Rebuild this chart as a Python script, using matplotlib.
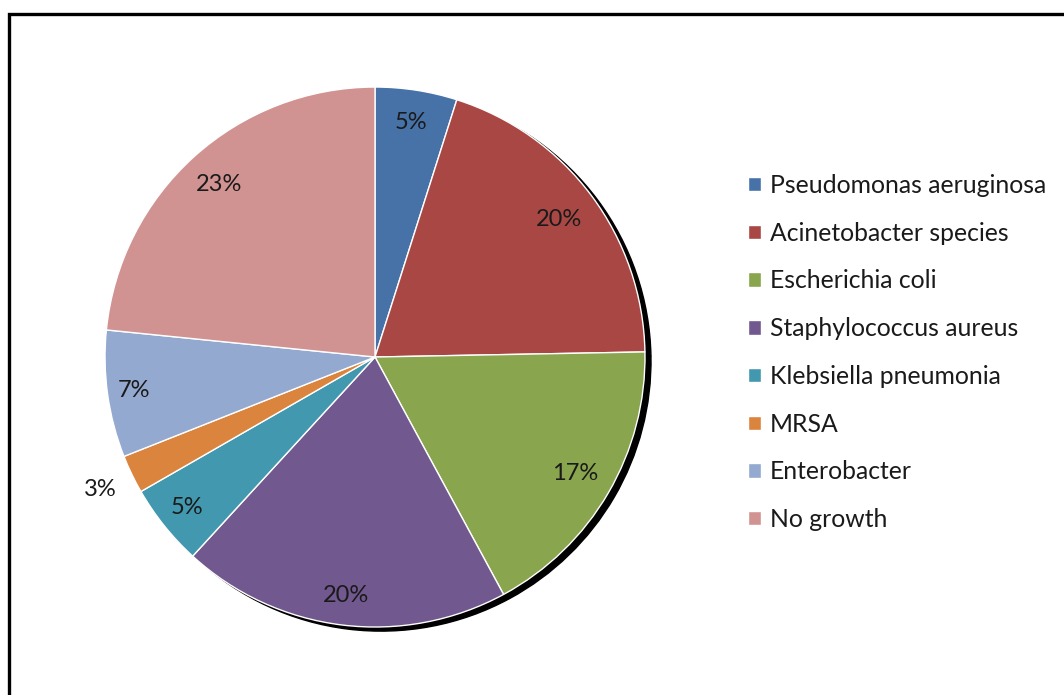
import matplotlib.pyplot as plt
import numpy as np
from matplotlib.patches import Rectangle

categories = ["Pseudomonas aeruginosa", "Acinetobacter species", "Escherichia coli",
              "Staphylococcus aureus", "Klebsiella pneumonia", "MRSA",
              "Enterobacter", "No growth"]
shares = [4.9, 19.8, 17.4, 19.7, 4.9, 2.3, 7.6, 23.4]
pct_labels = ["5%", "20%", "17%", "20%", "5%", "3%", "7%", "23%"]

colors = ["#4672A8", "#A94744", "#89A54E", "#71588F", "#4198AF",
          "#DB843D", "#93A9CF", "#D19392"]
label_dist = [0.88, 0.85, 0.86, 0.89, 0.89, 1.13, 0.90, 0.86]

plt.rcParams["font.family"] = ["Lato", "DejaVu Sans"]

fig = plt.figure(figsize=(10.64, 6.95), dpi=100)
ax = fig.add_axes([0.0987, 0.0978, 0.5075, 0.777])

wedges, _ = ax.pie(shares, colors=colors, startangle=90, counterclock=False,
                   wedgeprops=dict(edgecolor="white", linewidth=1.0),
                   shadow=dict(ox=0.016, oy=-0.011, shade=1.0, alpha=1.0))
ax.set_xlim(-1, 1)
ax.set_ylim(-1, 1)
ax.set_aspect("equal")

for w, txt, d in zip(wedges, pct_labels, label_dist):
    mid = np.deg2rad((w.theta1 + w.theta2) / 2)
    ax.text(d * np.cos(mid), d * np.sin(mid), txt, ha="center", va="center",
            fontsize=17, color="#1a1a1a")

leg = fig.legend(wedges, categories, loc="center left",
                 bbox_to_anchor=(0.682, 0.4928), frameon=False, fontsize=17.8,
                 handlelength=0.52, handleheight=0.52, handletextpad=0.36,
                 labelspacing=1.0)
for t in leg.get_texts():
    t.set_color("#1a1a1a")

# outer frame of the chart area
fig.patches.append(Rectangle((9 / 1064, -0.1), 1.2, (695 - 14) / 695 + 0.1,
                             transform=fig.transFigure, fill=False,
                             edgecolor="black", linewidth=2.4))

fig.savefig("out.png", dpi=100)
